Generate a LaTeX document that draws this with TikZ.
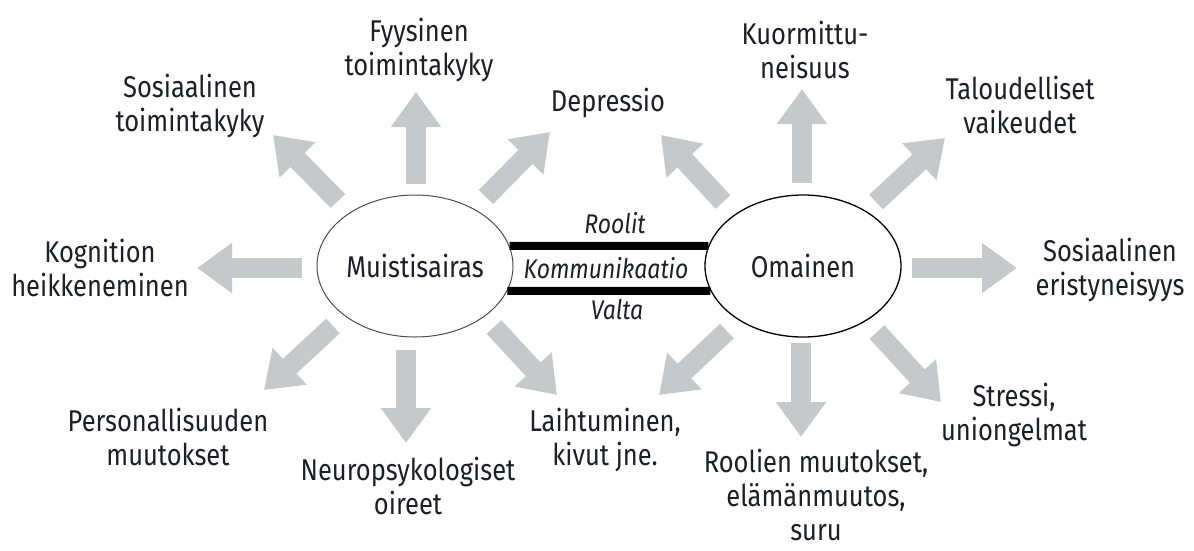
\documentclass[tikz,border=0pt]{standalone}
\usepackage{fontspec}
\setmainfont{Fira Sans}[FakeStretch=0.85]
\usepackage{tikz}
\usetikzlibrary{shapes.geometric,arrows.meta}

\definecolor{arrowgray}{RGB}{199,200,202}
\definecolor{textdark}{RGB}{30,30,40}

\begin{document}
\begin{tikzpicture}[x=1pt,y=1pt,
    label/.style={align=center,text=textdark,inner sep=0pt,
        font=\fontsize{30}{34}\selectfont},
    rel/.style={text=textdark,inner sep=0pt,
        font=\fontsize{27}{31}\selectfont\itshape},
    actor/.style={ellipse,draw,fill=white,minimum width=196pt,
        minimum height=142pt,inner sep=0pt,text=textdark,
        font=\fontsize{30}{34}\selectfont},
    fat/.style={line width=20pt,draw=arrowgray,
        -{Triangle[length=35pt,width=48pt]}},
    bar/.style={line width=8pt}]

    \useasboundingbox (0,0) rectangle (1194,-550);

    \node[actor,draw=black!70,line width=1pt] (ms) at (415,-266) {Muistisairas};
    \node[actor,line width=1.3pt] (om) at (803,-266) {Omainen};

    \draw[bar] (ms.12) -- (om.168);
    \draw[bar] (ms.-15) -- (om.195);

    \node[rel] (roolit) at (615,-223) {Roolit};
    \node[rel] (komm) at (606,-268) {Kommunikaatio};
    \node[rel] (valta) at (617,-310) {Valta};

    \node[label] (sosms) at (190,-106) {Sosiaalinen\\toimintakyky};
    \node[label] (fyys) at (419,-50) {Fyysinen\\toimintakyky};
    \node[label] (depr) at (608,-103) {Depressio};
    \node[label] (kogn) at (100,-268) {Kognition\\heikkeneminen};
    \node[label] (pers) at (168,-437) {Personallisuuden\\muutokset};
    \node[label] (neuro) at (408,-486) {Neuropsykologiset\\oireet};
    \node[label] (laiht) at (605,-440) {Laihtuminen,\\kivut jne.};

    \node[label] (kuor) at (805,-50) {Kuormittu-\\neisuus};
    \node[label] (talo) at (1020,-105) {Taloudelliset\\vaikeudet};
    \node[label] (sosom) at (1110,-270) {Sosiaalinen\\eristyneisyys};
    \node[label] (stress) at (1014,-415) {Stressi,\\uniongelmat};
    \node[label] (roolien) at (816,-495) {Roolien muutokset,\\elämänmuutos,\\suru};

    \draw[fat] (ms.center) ++(-77,65) -- ++(-65,66);
    \draw[fat] (ms.center) ++(1,82) -- ++(0,92);
    \draw[fat] (ms.center) ++(71,69) -- ++(64,65);
    \draw[fat] (ms.center) ++(-113,-2) -- ++(-105,0);
    \draw[fat] (ms.center) ++(-82,-60) -- ++(-69,-64);
    \draw[fat] (ms.center) ++(-9,-84) -- ++(0,-93);
    \draw[fat] (ms.center) ++(79,-61) -- ++(63,-68);

    \draw[fat] (om.center) ++(-80,64) -- ++(-62,67);
    \draw[fat] (om.center) ++(-1,83) -- ++(0,94);
    \draw[fat] (om.center) ++(73,64) -- ++(69,64);
    \draw[fat] (om.center) ++(109,-2) -- ++(105,0);
    \draw[fat] (om.center) ++(-76,-65) -- ++(-68,-64);
    \draw[fat] (om.center) ++(-2,-77) -- ++(0,-94);
    \draw[fat] (om.center) ++(74,-66) -- ++(64,-70);

\end{tikzpicture}
\end{document}
